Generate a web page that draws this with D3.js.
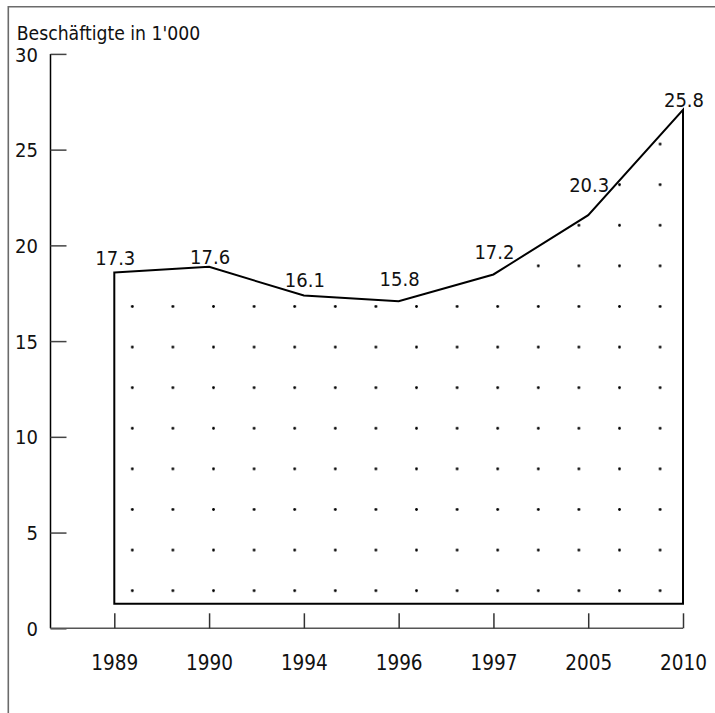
<!DOCTYPE html>
<html>
<head>
<meta charset="utf-8">
<script src="https://cdn.jsdelivr.net/npm/d3@7"></script>
<style>
  html, body { margin: 0; padding: 0; background: #fff; }
  svg { display: block; }
  text { font-family: "DejaVu Sans Condensed", "DejaVu Sans", sans-serif; fill: #111; }
</style>
</head>
<body>
<svg id="chart" width="715" height="713"></svg>
<script>
// Employment (thousands) by year
const years = ["1989", "1990", "1994", "1996", "1997", "2005", "2010"];
const employed = [17.3, 17.6, 16.1, 15.8, 17.2, 20.3, 25.8];
const yTicks = [0, 5, 10, 15, 20, 25, 30];
const yTitle = "Beschäftigte in 1'000";

// area sits on a raised floor above the zero line
const floor = 1.28;
// vertical lift of each value label above its point (px)
const labelLift = [8, 3, 9, 15, 15, 23, 3];

const W = 715, H = 713;
const svg = d3.select("#chart");

const x = d3.scalePoint().domain(years).range([114.3, 683]);
const y = d3.scaleLinear().domain([0, 30]).range([628.3, 53.9]);

// frame
svg.append("path")
  .attr("d", `M8.3,${H} V6.7 H${W}`)
  .attr("fill", "none").attr("stroke", "#6b6b6b").attr("stroke-width", 1.6);

// dotted fill pattern
const step = 40.6;
const defs = svg.append("defs");
const pat = defs.append("pattern")
  .attr("id", "dots")
  .attr("patternUnits", "userSpaceOnUse")
  .attr("x", 132.3 - step / 2).attr("y", 590.7 - step / 2)
  .attr("width", step).attr("height", step);
pat.append("circle").attr("cx", step / 2).attr("cy", step / 2).attr("r", 1.4).attr("fill", "#000");

const data = years.map((yr, i) => ({ yr, v: employed[i] }));

const area = d3.area()
  .x(d => x(d.yr))
  .y0(y(floor))
  .y1(d => y(d.v + floor));

svg.append("path")
  .datum(data)
  .attr("d", d => area(d))
  .attr("fill", "url(#dots)")
  .attr("stroke", "#000")
  .attr("stroke-width", 2)
  .attr("stroke-linejoin", "miter");

// y axis
const yAxis = d3.axisRight(y).tickValues(yTicks).tickSize(16).tickFormat("");
const gy = svg.append("g").attr("transform", "translate(50.5,0)").call(yAxis);
gy.select(".domain").attr("stroke", "#000").attr("stroke-width", 1.5)
  .attr("d", `M0,${y(0)}V${y(30)}`);
gy.selectAll(".tick line").attr("stroke", "#444").attr("stroke-width", 1.5);

svg.append("g").selectAll("text")
  .data(yTicks).join("text")
  .attr("x", 38).attr("y", d => y(d))
  .attr("dy", "0.38em")
  .attr("text-anchor", "end")
  .attr("font-size", 20)
  .text(d => d);

// x axis
const xAxis = d3.axisTop(x).tickSize(15).tickFormat("");
const gx = svg.append("g").attr("transform", `translate(0,${y(0)})`).call(xAxis);
gx.select(".domain").attr("stroke", "#555").attr("stroke-width", 1.5)
  .attr("d", `M50.5,0H${x("2010")}`);
gx.selectAll(".tick line").attr("stroke", "#333").attr("stroke-width", 1.5);

svg.append("g").selectAll("text")
  .data(years).join("text")
  .attr("x", d => x(d) + 0.5).attr("y", 670)
  .attr("text-anchor", "middle")
  .attr("font-size", 20.5)
  .text(d => d);

// value labels
svg.append("g").selectAll("text")
  .data(data).join("text")
  .attr("x", d => x(d.yr) + 1)
  .attr("y", (d, i) => y(d.v + floor) - labelLift[i])
  .attr("text-anchor", "middle")
  .attr("font-size", 20)
  .text(d => d.v.toFixed(1));

// axis title
svg.append("text")
  .attr("x", 16.7).attr("y", 40)
  .attr("font-size", 19.2)
  .text(yTitle);
</script>
</body>
</html>
